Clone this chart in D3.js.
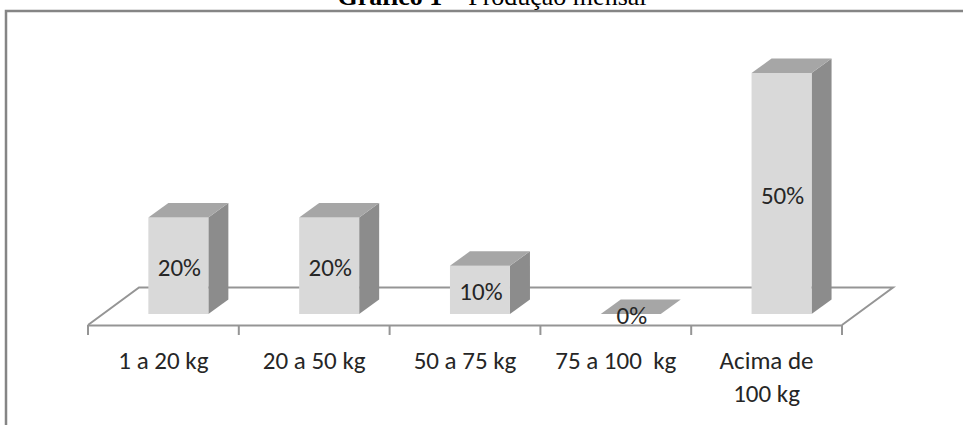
<!DOCTYPE html>
<html>
<head>
<meta charset="utf-8">
<script src="https://cdn.jsdelivr.net/npm/d3@7/dist/d3.min.js"></script>
<style>
  html, body { margin: 0; padding: 0; background: #fff; }
  svg { display: block; }
  text { white-space: pre; }
</style>
</head>
<body>
<svg id="chart" width="963" height="425"></svg>
<script>
// Monthly production by weight range (share of producers, %)
const categories = ["1 a 20 kg", "20 a 50 kg", "50 a 75 kg", "75 a 100  kg", "Acima de|100 kg"];
const values = [20, 20, 10, 0, 50];
const valueLabels = ["20%", "20%", "10%", "0%", "50%"];

const svg = d3.select("#chart");
const W = 963, H = 425;

// Outer chart frame (runs past the right and bottom edges)
svg.append("rect")
  .attr("x", 6).attr("y", 11)
  .attr("width", W + 20).attr("height", H + 20)
  .attr("fill", "#fff")
  .attr("stroke", "#858585")
  .attr("stroke-width", 2.5);

// Title, partly cut by the top edge
const title = svg.append("text")
  .attr("x", 492).attr("y", 5)
  .attr("text-anchor", "middle")
  .attr("font-family", "'Liberation Serif', 'Times New Roman', serif")
  .attr("font-size", 26)
  .attr("fill", "#000");
title.append("tspan").attr("font-weight", "bold").text("Gráfico 1");
title.append("tspan").text(" – Produção mensal");

// Front edge of the floor carries the category bands
const floorFront = 325, floorBack = 287.5;
const skew = 51 / (floorFront - floorBack);   // horizontal shift per pixel of depth
const x = d3.scaleBand().domain(categories).range([88, 842]).padding(0);
const y = d3.scaleLinear().domain([0, 50]).range([314, 73]);

const barW = 60;
const depthX = 20, depthY = 14.5;
const baseShift = (floorFront - y(0)) * skew;   // bars stand slightly behind the front edge

const floorColor = "#959595";
const textColor = "#262626";
const labelFont = "Carlito, Lato, 'Open Sans', sans-serif";
const g = svg.append("g");

// Floor: back edge and side edges
const x0 = x.range()[0], x1 = x.range()[1];
const dX = (floorFront - floorBack) * skew;
g.append("path")
  .attr("d", `M${x0},${floorFront} L${x0 + dX},${floorBack} L${x1 + dX},${floorBack} L${x1},${floorFront}`)
  .attr("fill", "none")
  .attr("stroke", floorColor)
  .attr("stroke-width", 2);

// Front edge with category separators, drawn through d3's bottom axis
const axis = d3.axisBottom(x).tickSize(0).tickFormat("");
const axisG = g.append("g").attr("transform", `translate(0,${floorFront})`).call(axis);
axisG.select(".domain").attr("stroke", floorColor).attr("stroke-width", 2);
const tickPos = categories.map(c => x(c)).concat([x1]);
axisG.selectAll(".sep").data(tickPos).enter().append("line")
  .attr("class", "sep")
  .attr("x1", d => d).attr("x2", d => d)
  .attr("y1", 0).attr("y2", 10)
  .attr("stroke", floorColor).attr("stroke-width", 2);

// Category labels
const labelG = svg.append("g")
  .attr("font-family", labelFont)
  .attr("font-size", 25)
  .attr("fill", textColor);
categories.forEach(c => {
  const lines = c.split("|");
  const t = labelG.append("text")
    .attr("x", x(c) + x.bandwidth() / 2)
    .attr("y", 369)
    .attr("text-anchor", "middle");
  lines.forEach((ln, i) => {
    t.append("tspan")
      .attr("x", x(c) + x.bandwidth() / 2)
      .attr("dy", i === 0 ? 0 : 33)
      .text(ln);
  });
});

// 3D bars
const bars = svg.append("g");
categories.forEach((c, i) => {
  const cx = x(c) + x.bandwidth() / 2 + baseShift;
  const l = cx - barW / 2, r = cx + barW / 2;
  const top = y(values[i]), bot = y(0);
  const bg = bars.append("g");
  if (values[i] > 0) {
    // side face
    bg.append("path")
      .attr("d", `M${r},${bot} L${r + depthX},${bot - depthY} L${r + depthX},${top - depthY} L${r},${top} Z`)
      .attr("fill", "#8c8c8c");
    // front face
    bg.append("rect")
      .attr("x", l).attr("y", top)
      .attr("width", barW).attr("height", bot - top)
      .attr("fill", "#d9d9d9");
  }
  // top face
  bg.append("path")
    .attr("d", `M${l},${top} L${l + depthX},${top - depthY} L${r + depthX},${top - depthY} L${r},${top} Z`)
    .attr("fill", "#a6a6a6");
  // value label in the middle of the front face
  bg.append("text")
    .attr("x", cx + 1)
    .attr("y", (top + bot) / 2 + 10)
    .attr("text-anchor", "middle")
    .attr("font-family", labelFont)
    .attr("font-size", 25)
    .attr("fill", textColor)
    .text(valueLabels[i]);
});
</script>
</body>
</html>
